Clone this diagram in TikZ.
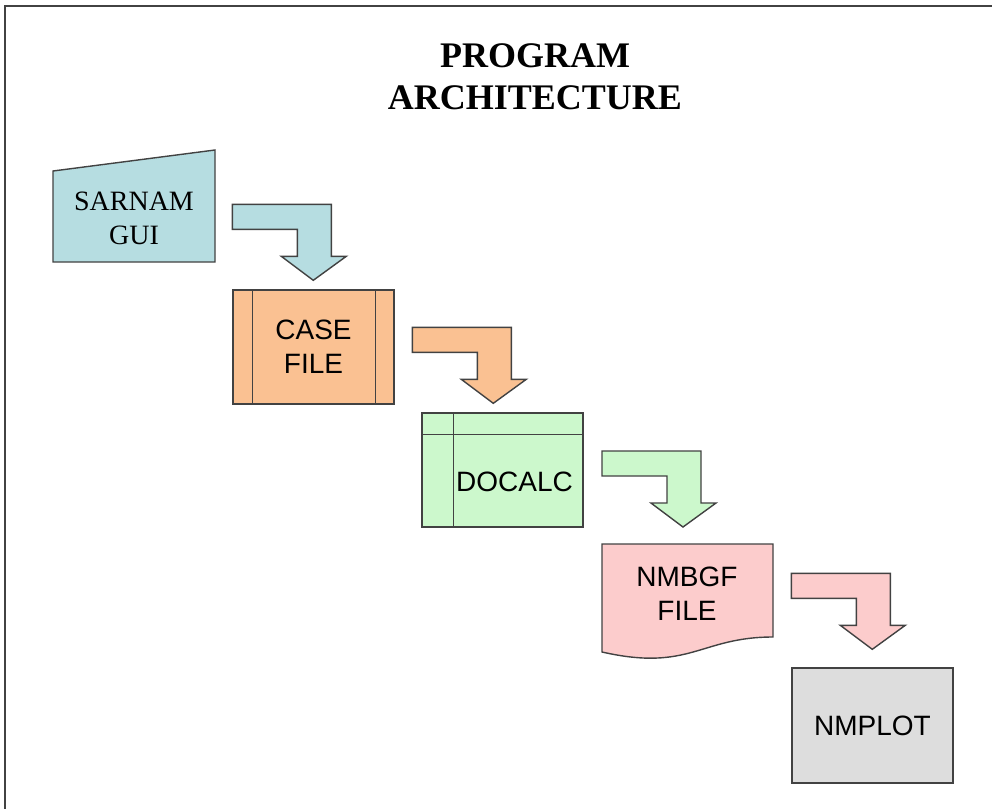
\documentclass[tikz,border=0pt]{standalone}
\usepackage{fontspec}
\setmainfont{Liberation Serif}
\setsansfont{Liberation Sans}
\usetikzlibrary{calc}
\definecolor{edgegray}{RGB}{66,66,66}
\definecolor{guiblue}{RGB}{182,221,225}
\definecolor{caseorange}{RGB}{250,193,146}
\definecolor{calcgreen}{RGB}{204,248,204}
\definecolor{filepink}{RGB}{252,204,204}
\definecolor{plotgrey}{RGB}{221,221,221}
\tikzset{shape line/.style={draw=edgegray,line width=0.7pt}}
\tikzset{bend arrow/.style={shape line,fill=#1},bend arrow/.default=guiblue}

\begin{document}
\begin{tikzpicture}[x=0.5pt,y=-0.5pt,
                    box/.style={shape line,fill=#1,minimum width=80.5pt,
                                minimum height=57pt,inner sep=0pt},
                    sanstext/.style={font=\sffamily\fontsize{14}{17}\selectfont,align=center},
                    seriftext/.style={font=\fontsize{14}{17}\selectfont,align=center}]

		\useasboundingbox (0,0) rectangle (992,809);

		% The frame (top and left edges only)
		\draw [edgegray,line width=1pt] (5,809) -- (5,6) -- (992,6);

		% The title
		\node [font=\bfseries\fontsize{18}{21}\selectfont,align=center] (title)
			at (535,77) {PROGRAM\\ARCHITECTURE};

		% SARNAM GUI (manual input)
		\coordinate (gui sw) at (53,262);
		\coordinate (gui ne) at (215,150);
		\draw [shape line,fill=guiblue] (gui sw) -- ($(gui sw)+(0,-91)$) --
		      (gui ne) -- (gui sw -| gui ne) -- cycle;
		\node [seriftext] (gui) at (134,218) {SARNAM\\GUI};

		% CASE FILE (predefined process)
		\node [box=caseorange,sanstext] (case) at (313.5,347) {CASE\\FILE};
		\draw [shape line] ($(case.north west)+(20,0)$) -- ($(case.south west)+(20,0)$);
		\draw [shape line] ($(case.north east)+(-19,0)$) -- ($(case.south east)+(-19,0)$);

		% DOCALC (internal storage)
		\node [box=calcgreen] (docalc) at (502.5,470) {};
		\draw [shape line] ($(docalc.north west)+(32,0)$) -- ($(docalc.south west)+(32,0)$);
		\draw [shape line] ($(docalc.north west)+(0,22)$) -- ($(docalc.north east)+(0,22)$);
		\node [sanstext] (docalc text) at ($(docalc.center)+(12,12)$) {DOCALC};

		% NMBGF FILE (document)
		\coordinate (file nw) at (602,544);
		\coordinate (file ne) at (773,544);
		\draw [shape line,fill=filepink] (file nw) -- (file ne) -- ($(file ne)+(0,93)$)
		      .. controls (700,637) and (690,672) .. ($(file nw)+(0,108)$) -- cycle;
		\node [sanstext] (file) at (687,594) {NMBGF\\FILE};

		% NMPLOT
		\node [box=plotgrey,minimum height=57.5pt,sanstext] (plot) at (872.5,725.5) {NMPLOT};

		% Arrow from SARNAM GUI to CASE FILE
		\coordinate (a1) at ($(case.north west)+(0,-85)$);
		\draw [bend arrow=guiblue] (a1) -- ++(99,0) -- ++(0,52) -- ++(15,0) -- ++(-33,24)
		      -- ++(-32,-24) -- ++(16,0) -- ++(0,-27) -- ++(-65,0) -- cycle;

		% Arrow from CASE FILE to DOCALC
		\coordinate (a2) at ($(docalc.north west)+(-9,-85)$);
		\draw [bend arrow=caseorange] (a2) -- ++(99,0) -- ++(0,52) -- ++(15,0) -- ++(-33,24)
		      -- ++(-32,-24) -- ++(16,0) -- ++(0,-27) -- ++(-65,0) -- cycle;

		% Arrow from DOCALC to NMBGF FILE
		\coordinate (a3) at ($(file nw)+(0,-93)$);
		\draw [bend arrow=calcgreen] (a3) -- ++(99,0) -- ++(0,52) -- ++(15,0) -- ++(-33,24)
		      -- ++(-32,-24) -- ++(16,0) -- ++(0,-27) -- ++(-65,0) -- cycle;

		% Arrow from NMBGF FILE to NMPLOT
		\coordinate (a4) at ($(plot.north west)+(0,-94)$);
		\draw [bend arrow=filepink] (a4) -- ++(99,0) -- ++(0,52) -- ++(15,0) -- ++(-33,24)
		      -- ++(-32,-24) -- ++(16,0) -- ++(0,-27) -- ++(-65,0) -- cycle;

\end{tikzpicture}
\end{document}
